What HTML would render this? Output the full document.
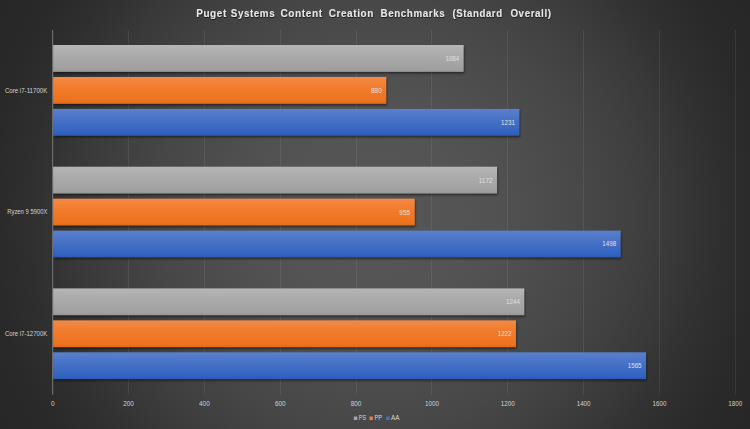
<!DOCTYPE html>
<html><head><meta charset="utf-8"><style>
html,body{margin:0;padding:0;width:750px;height:429px;overflow:hidden;background:#333;}
svg{display:block;}
text{font-family:"Liberation Sans",sans-serif;}
.ti{font-size:10px;font-weight:bold;fill:#e6e6e6;word-spacing:2.5px;letter-spacing:0.6px;}
.cl{font-size:6.8px;fill:#d4d4d4;}
.tl{font-size:6.8px;fill:#d0d0d0;}
.dl{font-size:6.5px;fill:#e0e0e0;}
.lg{font-size:6.3px;fill:#d9d9d9;}
</style></head><body>
<svg width="750" height="429" viewBox="0 0 750 429">
<defs>
<radialGradient id="bg" gradientUnits="userSpaceOnUse" cx="375" cy="215" r="432">
<stop offset="0" stop-color="rgb(86.0,86.0,86.0)"/>
<stop offset="0.1" stop-color="rgb(85.4,85.4,85.4)"/>
<stop offset="0.2" stop-color="rgb(83.6,83.6,83.6)"/>
<stop offset="0.3" stop-color="rgb(80.5,80.5,80.5)"/>
<stop offset="0.4" stop-color="rgb(76.1,76.1,76.1)"/>
<stop offset="0.5" stop-color="rgb(70.6,70.6,70.6)"/>
<stop offset="0.6" stop-color="rgb(63.8,63.8,63.8)"/>
<stop offset="0.7" stop-color="rgb(55.9,55.9,55.9)"/>
<stop offset="0.75" stop-color="rgb(51.4,51.4,51.4)"/>
<stop offset="0.8" stop-color="rgb(46.8,46.8,46.8)"/>
<stop offset="0.85" stop-color="rgb(43.6,43.6,43.6)"/>
<stop offset="0.9" stop-color="rgb(41.3,41.3,41.3)"/>
<stop offset="0.95" stop-color="rgb(39.9,39.9,39.9)"/>
<stop offset="1" stop-color="rgb(39.0,39.0,39.0)"/>
</radialGradient>
<linearGradient id="gGray" x1="0" y1="0" x2="0" y2="1">
<stop offset="0" stop-color="#b6b6b6"/><stop offset="0.3" stop-color="#adadad"/><stop offset="0.9" stop-color="#a0a0a0"/><stop offset="1" stop-color="#969696"/>
</linearGradient>
<linearGradient id="gOrange" x1="0" y1="0" x2="0" y2="1">
<stop offset="0" stop-color="#f28a48"/><stop offset="0.35" stop-color="#f27d2e"/><stop offset="0.9" stop-color="#ec721e"/><stop offset="1" stop-color="#e06a18"/>
</linearGradient>
<linearGradient id="gBlue" x1="0" y1="0" x2="0" y2="1">
<stop offset="0" stop-color="#5a80cc"/><stop offset="0.45" stop-color="#4570c6"/><stop offset="0.9" stop-color="#3262c0"/><stop offset="1" stop-color="#2c58b0"/>
</linearGradient>
<filter id="tsh" x="-5%" y="-30%" width="110%" height="170%">
<feDropShadow dx="0.4" dy="0.9" stdDeviation="0.5" flood-color="#000" flood-opacity="0.7"/>
</filter>
<filter id="sh" x="-5%" y="-30%" width="110%" height="160%">
<feGaussianBlur stdDeviation="1"/>
</filter>
</defs>
<rect x="0" y="0" width="750" height="429" fill="url(#bg)"/>
<rect x="128" y="30" width="1" height="364.5" fill="#ffffff" fill-opacity="0.075"/>
<rect x="204" y="30" width="1" height="364.5" fill="#ffffff" fill-opacity="0.075"/>
<rect x="280" y="30" width="1" height="364.5" fill="#ffffff" fill-opacity="0.075"/>
<rect x="356" y="30" width="1" height="364.5" fill="#ffffff" fill-opacity="0.075"/>
<rect x="431" y="30" width="1" height="364.5" fill="#ffffff" fill-opacity="0.075"/>
<rect x="507" y="30" width="1" height="364.5" fill="#ffffff" fill-opacity="0.075"/>
<rect x="583" y="30" width="1" height="364.5" fill="#ffffff" fill-opacity="0.075"/>
<rect x="659" y="30" width="1" height="364.5" fill="#ffffff" fill-opacity="0.075"/>
<rect x="735" y="30" width="1" height="364.5" fill="#ffffff" fill-opacity="0.075"/>
<rect x="53.6" y="46.60" width="410.68" height="26.90" fill="#000" fill-opacity="0.5" filter="url(#sh)"/>
<rect x="53" y="45.00" width="410.68" height="26.90" fill="url(#gGray)"/>
<text x="459.18" y="60.85" text-anchor="end" class="dl" textLength="13.8" lengthAdjust="spacingAndGlyphs">1084</text>
<rect x="53.6" y="78.55" width="333.32" height="26.90" fill="#000" fill-opacity="0.5" filter="url(#sh)"/>
<rect x="53" y="76.95" width="333.32" height="26.90" fill="url(#gOrange)"/>
<text x="381.82" y="92.80" text-anchor="end" class="dl" textLength="10.9" lengthAdjust="spacingAndGlyphs">880</text>
<rect x="53.6" y="110.50" width="466.42" height="26.90" fill="#000" fill-opacity="0.5" filter="url(#sh)"/>
<rect x="53" y="108.90" width="466.42" height="26.90" fill="url(#gBlue)"/>
<text x="514.92" y="124.75" text-anchor="end" class="dl" textLength="13.8" lengthAdjust="spacingAndGlyphs">1231</text>
<text x="47.3" y="92.90" text-anchor="end" class="cl" textLength="42.4" lengthAdjust="spacingAndGlyphs">Core i7-11700K</text>
<rect x="53.6" y="168.30" width="444.05" height="26.90" fill="#000" fill-opacity="0.5" filter="url(#sh)"/>
<rect x="53" y="166.70" width="444.05" height="26.90" fill="url(#gGray)"/>
<text x="492.55" y="182.55" text-anchor="end" class="dl" textLength="13.8" lengthAdjust="spacingAndGlyphs">1172</text>
<rect x="53.6" y="200.25" width="361.76" height="26.90" fill="#000" fill-opacity="0.5" filter="url(#sh)"/>
<rect x="53" y="198.65" width="361.76" height="26.90" fill="url(#gOrange)"/>
<text x="410.26" y="214.50" text-anchor="end" class="dl" textLength="10.9" lengthAdjust="spacingAndGlyphs">955</text>
<rect x="53.6" y="232.20" width="567.67" height="26.90" fill="#000" fill-opacity="0.5" filter="url(#sh)"/>
<rect x="53" y="230.60" width="567.67" height="26.90" fill="url(#gBlue)"/>
<text x="616.17" y="246.45" text-anchor="end" class="dl" textLength="13.8" lengthAdjust="spacingAndGlyphs">1498</text>
<text x="47.3" y="214.10" text-anchor="end" class="cl" textLength="40.0" lengthAdjust="spacingAndGlyphs">Ryzen 9 5900X</text>
<rect x="53.6" y="290.00" width="471.35" height="26.90" fill="#000" fill-opacity="0.5" filter="url(#sh)"/>
<rect x="53" y="288.40" width="471.35" height="26.90" fill="url(#gGray)"/>
<text x="519.85" y="304.25" text-anchor="end" class="dl" textLength="13.8" lengthAdjust="spacingAndGlyphs">1244</text>
<rect x="53.6" y="321.95" width="463.01" height="26.90" fill="#000" fill-opacity="0.5" filter="url(#sh)"/>
<rect x="53" y="320.35" width="463.01" height="26.90" fill="url(#gOrange)"/>
<text x="511.51" y="336.20" text-anchor="end" class="dl" textLength="13.8" lengthAdjust="spacingAndGlyphs">1222</text>
<rect x="53.6" y="353.90" width="593.08" height="26.90" fill="#000" fill-opacity="0.5" filter="url(#sh)"/>
<rect x="53" y="352.30" width="593.08" height="26.90" fill="url(#gBlue)"/>
<text x="641.58" y="368.15" text-anchor="end" class="dl" textLength="13.8" lengthAdjust="spacingAndGlyphs">1565</text>
<text x="47.3" y="335.90" text-anchor="end" class="cl" textLength="42.4" lengthAdjust="spacingAndGlyphs">Core i7-12700K</text>
<rect x="52" y="30" width="1.2" height="364.7" fill="#6c6c6c"/>
<text x="52.70" y="406" text-anchor="middle" class="tl" textLength="3.6" lengthAdjust="spacingAndGlyphs">0</text>
<text x="128.54" y="406" text-anchor="middle" class="tl" textLength="10.6" lengthAdjust="spacingAndGlyphs">200</text>
<text x="204.39" y="406" text-anchor="middle" class="tl" textLength="10.6" lengthAdjust="spacingAndGlyphs">400</text>
<text x="280.23" y="406" text-anchor="middle" class="tl" textLength="10.6" lengthAdjust="spacingAndGlyphs">600</text>
<text x="356.08" y="406" text-anchor="middle" class="tl" textLength="10.6" lengthAdjust="spacingAndGlyphs">800</text>
<text x="431.92" y="406" text-anchor="middle" class="tl" textLength="13.9" lengthAdjust="spacingAndGlyphs">1000</text>
<text x="507.77" y="406" text-anchor="middle" class="tl" textLength="13.9" lengthAdjust="spacingAndGlyphs">1200</text>
<text x="583.61" y="406" text-anchor="middle" class="tl" textLength="13.9" lengthAdjust="spacingAndGlyphs">1400</text>
<text x="659.46" y="406" text-anchor="middle" class="tl" textLength="13.9" lengthAdjust="spacingAndGlyphs">1600</text>
<text x="735.30" y="406" text-anchor="middle" class="tl" textLength="13.9" lengthAdjust="spacingAndGlyphs">1800</text>
<rect x="353.8" y="416.5" width="3.5" height="3.5" fill="#a5a5a5"/>
<text x="358.80" y="420.2" class="lg" textLength="7.2" lengthAdjust="spacingAndGlyphs">PS</text>
<rect x="369.4" y="416.5" width="3.5" height="3.5" fill="#ed7d31"/>
<text x="374.50" y="420.2" class="lg" textLength="7.6" lengthAdjust="spacingAndGlyphs">PP</text>
<rect x="386.1" y="416.5" width="3.5" height="3.5" fill="#4472c4"/>
<text x="390.90" y="420.2" class="lg" textLength="8.5" lengthAdjust="spacingAndGlyphs">AA</text>
<text x="196.20" y="16.7" class="ti" filter="url(#tsh)" textLength="30.60" lengthAdjust="spacingAndGlyphs">Puget</text>
<text x="230.80" y="16.7" class="ti" filter="url(#tsh)" textLength="44.40" lengthAdjust="spacingAndGlyphs">Systems</text>
<text x="280.40" y="16.7" class="ti" filter="url(#tsh)" textLength="42.20" lengthAdjust="spacingAndGlyphs">Content</text>
<text x="328.80" y="16.7" class="ti" filter="url(#tsh)" textLength="45.00" lengthAdjust="spacingAndGlyphs">Creation</text>
<text x="380.60" y="16.7" class="ti" filter="url(#tsh)" textLength="64.60" lengthAdjust="spacingAndGlyphs">Benchmarks</text>
<text x="452.60" y="16.7" class="ti" filter="url(#tsh)" textLength="50.00" lengthAdjust="spacingAndGlyphs">(Standard</text>
<text x="510.40" y="16.7" class="ti" filter="url(#tsh)" textLength="41.20" lengthAdjust="spacingAndGlyphs">Overall)</text>
</svg>
</body></html>
